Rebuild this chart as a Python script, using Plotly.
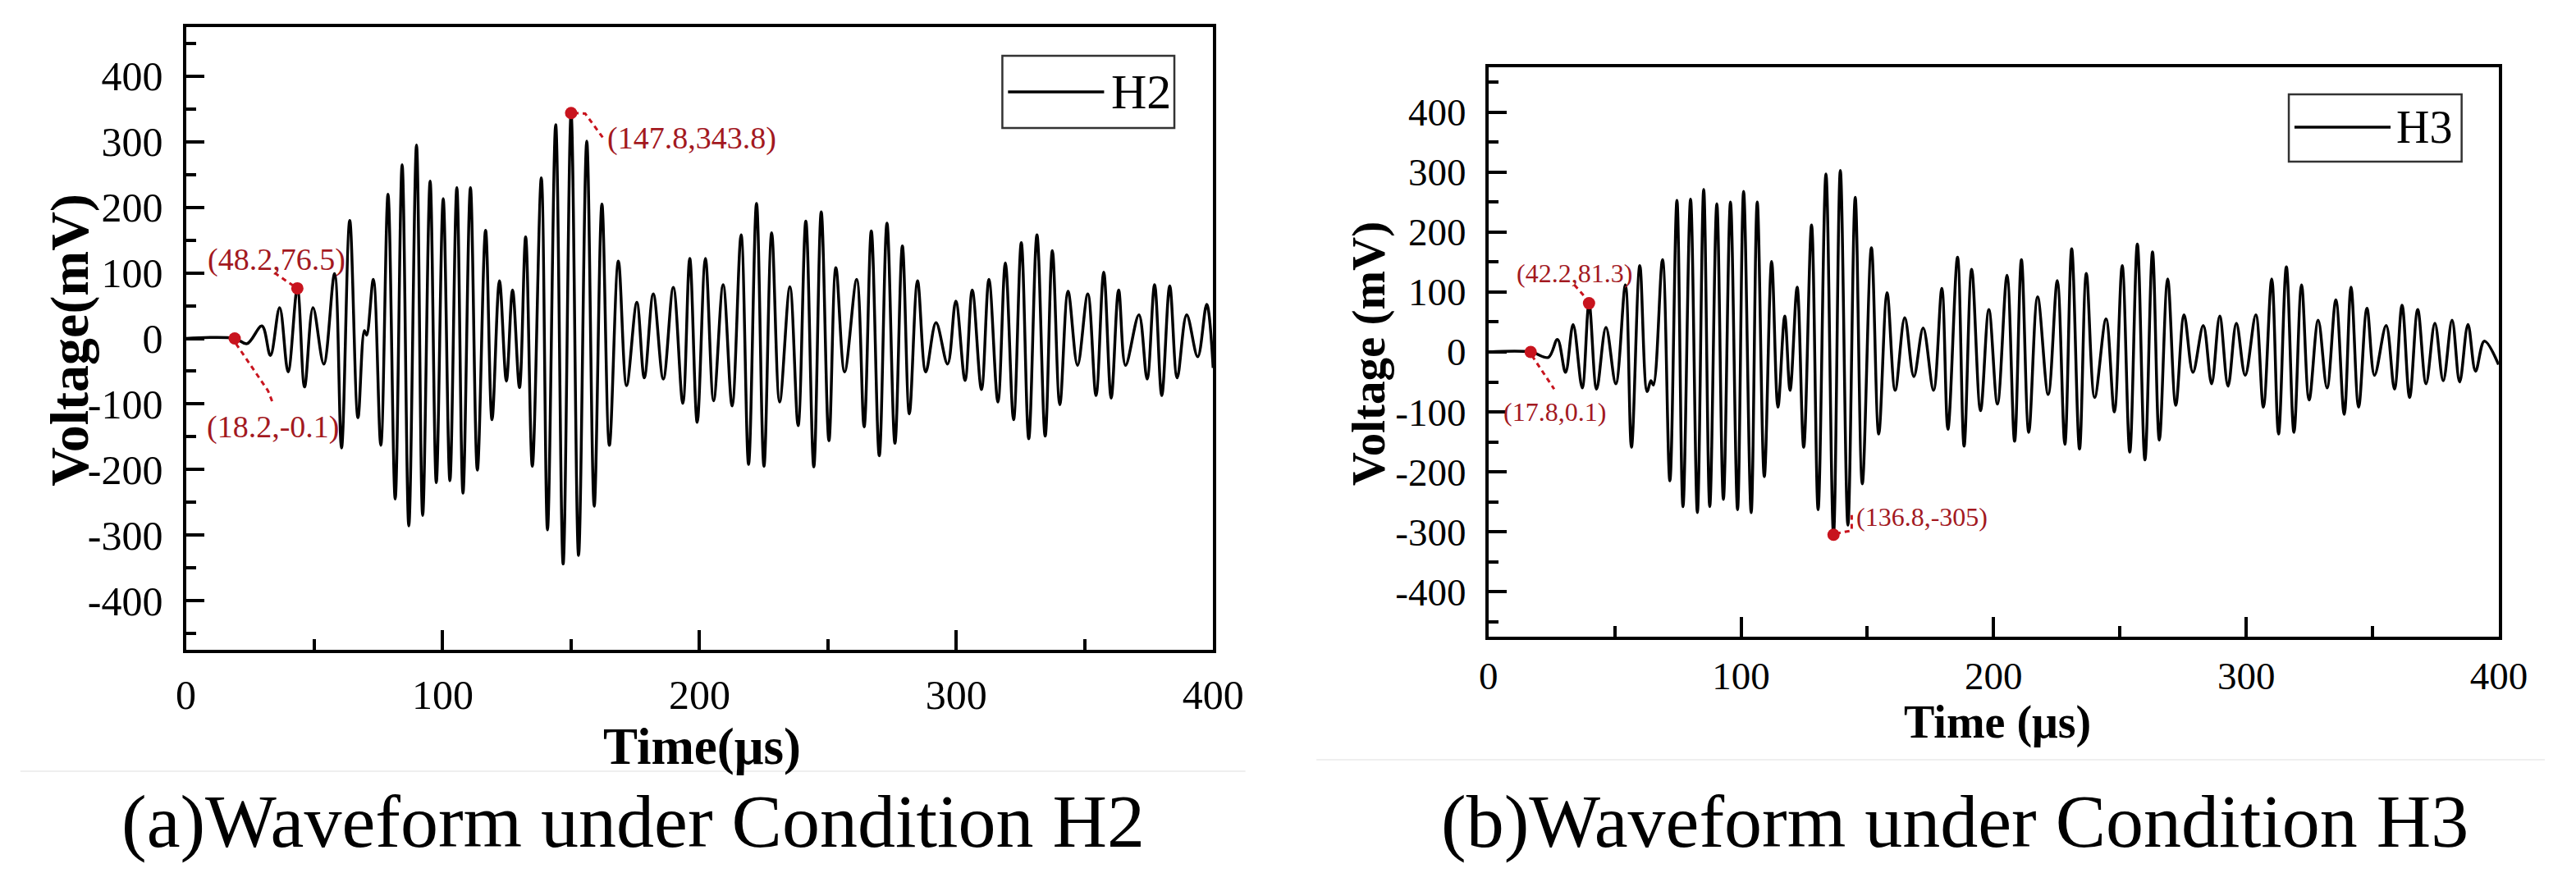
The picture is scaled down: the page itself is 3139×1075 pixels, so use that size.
import plotly.graph_objects as go

# ---------------- data ----------------
# Panel (a): condition H2 – waveform extrema (time in microseconds, voltage in mV)
h2_time = [0, 19.0, 23.8, 29.6, 32.9, 36.5, 39.8, 43.4, 46.2, 49.5, 53.7, 57.9, 60.6,
           63.8, 67.0, 69.5, 70.4, 73.0, 75.9, 78.7, 81.5, 84.2, 86.8, 89.8, 92.2, 95.1,
           97.5, 100.2, 102.8, 105.5, 107.9, 110.8, 113.5, 116.7, 119.2, 122.1, 124.8,
           127.2, 129.9, 132.3, 134.9, 138.4, 140.8, 144.0, 146.9, 150.0, 152.9, 156.1,
           159.0, 162.0, 164.9, 168.4, 171.6, 175.6, 178.5, 182.0, 185.9, 189.8, 193.5,
           196.2, 199.1, 202.3, 205.5, 209.2, 212.7, 216.2, 219.1, 222.2, 225.1, 228.1,
           231.2, 235.2, 238.4, 241.4, 244.5, 247.4, 250.4, 253.1, 256.5, 261.2, 264.1,
           266.9, 270.0, 273.0, 276.1, 279.0, 281.7, 284.9, 288.1, 292.1, 296.6, 299.8,
           303.4, 306.2, 309.8, 312.7, 316.2, 319.1, 322.3, 325.3, 328.2, 331.4, 334.6,
           337.4, 340.3, 343.5, 347.2, 351.2, 354.4, 357.4, 360.3, 363.2, 365.9, 371.1,
           374.3, 377.2, 380.0, 383.1, 386.0, 389.7, 394.0, 397.5, 400.0]
h2_voltage = [0, 0, -8, 19, -26, 47, -51, 76.5, -74, 47, -39, 99, -167,
              180, -121, 12, 5, 90, -163, 220, -245, 265, -286, 295, -270, 240,
              -220, 213, -217, 230, -236, 230, -201, 165, -124, 88, -65,
              74, -75, 155, -195, 245, -292, 326, -344, 343.8, -331, 301,
              -256, 205, -163, 118, -72, 55, -60, 68, -62, 78, -99,
              122, -128, 122, -95, 82, -103, 158, -192, 206, -195, 161,
              -97, 79, -133, 179, -196, 193, -156, 108, -51, 90, -135,
              164, -179, 176, -160, 141, -115, 88, -51, 24, -39, 57,
              -64, 74, -78, 90, -97, 115, -124, 146, -153, 158, -149,
              134, -101, 72, -41, 68, -87, 101, -91, 74, -41, 36,
              -62, 82, -87, 80, -60, 36, -28, 52, -45]

# Panel (b): condition H3
h3_time = [0, 16.7, 23.7, 27.3, 30.5, 33.5, 37.1, 39.8, 42.8, 46.5, 50.4, 54.2, 56.6,
           59.9, 62.8, 64.3, 65.3, 68.9, 71.8, 74.6, 77.0, 80.0, 82.7, 85.2, 87.6, 90.4,
           93.0, 95.8, 98.6, 101.0, 104.0, 106.4, 109.2, 112.1, 114.6, 117.3, 119.4,
           122.2, 124.8, 127.9, 130.5, 133.6, 136.6, 139.3, 142.3, 145.2, 148.0, 151.6,
           154.5, 157.8, 161.0, 164.8, 168.4, 172.1, 176.2, 179.5, 181.9, 185.7, 188.3,
           191.3, 194.8, 198.1, 201.5, 205.3, 208.3, 211.0, 213.9, 217.4, 221.6, 225.2,
           228.2, 230.9, 234.0, 236.7, 240.0, 244.5, 247.8, 250.9, 253.9, 256.9, 259.9,
           262.9, 265.6, 268.9, 272.1, 275.4, 278.9, 283.0, 286.3, 289.5, 292.8, 296.1,
           299.6, 303.8, 306.8, 310.1, 312.8, 315.9, 318.9, 321.9, 324.9, 328.5, 332.0,
           335.5, 338.8, 341.5, 344.5, 347.8, 350.8, 355.4, 358.7, 361.7, 364.7, 367.9,
           371.2, 374.7, 378.0, 381.5, 384.5, 387.8, 390.8, 394.3, 399.9]
h3_voltage = [0, 0, -9, 21, -34, 46, -60, 81.3, -62, 41, -53, 112, -159,
              144, -66, -48, -55, 154, -215, 253, -258, 255, -268, 271, -258, 247,
              -246, 250, -263, 268, -268, 250, -208, 151, -92, 60, -64,
              108, -159, 212, -263, 297, -305, 303, -289, 258, -220, 174,
              -137, 99, -64, 57, -41, 40, -64, 106, -129, 158, -157,
              138, -98, 71, -87, 128, -149, 154, -134, 92, -71, 119,
              -154, 172, -162, 131, -76, 55, -100, 144, -167, 180, -180,
              167, -147, 122, -89, 62, -34, 44, -53, 60, -57, 48,
              -39, 62, -92, 122, -137, 142, -134, 112, -80, 53, -60,
              87, -104, 108, -92, 73, -39, 44, -62, 78, -76, 71,
              -53, 48, -48, 53, -50, 46, -32, 18, -21]

# highlighted points (as drawn) and their printed labels
h2_mark_t = [19.0, 43.4, 150.0]
h2_mark_v = [0, 76.5, 343.8]
h2_labels = ["(18.2,-0.1)", "(48.2,76.5)", "(147.8,343.8)"]
h3_mark_t = [16.7, 39.8, 136.6]
h3_mark_v = [0, 81.3, -305]
h3_labels = ["(17.8,0.1)", "(42.2,81.3)", "(136.8,-305)"]

x_ticks = [0, 100, 200, 300, 400]
x_minor = [50, 150, 250, 350]
y_ticks = [-400, -300, -200, -100, 0, 100, 200, 300, 400]
y_tick_text = ["-400", "-300", "-200", "-100", "0", "100", "200", "300", "400"]
y_minor = [-450, -350, -250, -150, -50, 50, 150, 250, 350, 450]

captions = ["(a)Waveform under Condition H2", "(b)Waveform under Condition H3"]
series_names = ["H2", "H3"]

# ---------------- figure ----------------
W, H = 3139, 1075
def px(x):
    return x / W
def py(y):
    return 1 - y / H

RED = "#c8141e"
LRED = "#a3191f"
SERIF = "Liberation Serif"

fig = go.Figure()
fig.add_trace(go.Scatter(x=h2_time, y=h2_voltage, mode="lines", name=series_names[0],
                         line=dict(color="black", width=3.5, shape="spline", smoothing=1.0),
                         xaxis="x", yaxis="y", showlegend=False))
fig.add_trace(go.Scatter(x=h2_mark_t, y=h2_mark_v, mode="markers",
                         marker=dict(color=RED, size=15), xaxis="x", yaxis="y", showlegend=False))
fig.add_trace(go.Scatter(x=h3_time, y=h3_voltage, mode="lines", name=series_names[1],
                         line=dict(color="black", width=3.5, shape="spline", smoothing=1.0),
                         xaxis="x2", yaxis="y2", showlegend=False))
fig.add_trace(go.Scatter(x=h3_mark_t, y=h3_mark_v, mode="markers",
                         marker=dict(color=RED, size=15), xaxis="x2", yaxis="y2", showlegend=False))

def xax(dom, anchor, fs, standoff):
    return dict(domain=dom, anchor=anchor, range=[0, 400], tickmode="array", tickvals=x_ticks,
                showline=True, linecolor="black", linewidth=4, mirror=True,
                ticks="inside", ticklen=24, tickwidth=4, tickcolor="black",
                minor=dict(ticks="inside", ticklen=13, tickwidth=4, tickcolor="black",
                           tickmode="array", tickvals=x_minor),
                showgrid=False, zeroline=False, ticklabelstandoff=standoff,
                tickfont=dict(family=SERIF, size=fs, color="black"))

def yax(dom, anchor, fs):
    return dict(domain=dom, anchor=anchor, range=[-475, 475], tickmode="array", tickvals=y_ticks,
                ticktext=y_tick_text,
                showline=True, linecolor="black", linewidth=4, mirror=True,
                ticks="inside", ticklen=22, tickwidth=4, tickcolor="black",
                minor=dict(ticks="inside", ticklen=12, tickwidth=4, tickcolor="black",
                           tickmode="array", tickvals=y_minor),
                showgrid=False, zeroline=False, ticklabelstandoff=14,
                tickfont=dict(family=SERIF, size=fs, color="black"))

fig.update_layout(
    width=W, height=H, margin=dict(l=0, r=0, t=0, b=0),
    paper_bgcolor="white", plot_bgcolor="white",
    xaxis=xax([px(218), px(1490)], "y", 50, 8),
    yaxis=yax([py(792), py(33)], "x", 50),
    xaxis2=xax([px(1831), px(3082)], "y2", 47, 4),
    yaxis2=yax([py(776), py(82)], "x2", 47),
)

ann = []
shapes = []

def text(t, x, y, fs, color="black", xanchor="center", angle=0):
    ann.append(dict(text=t, x=px(x), y=py(y), xref="paper", yref="paper",
                    xanchor=xanchor, yanchor="middle", textangle=angle, showarrow=False,
                    font=dict(family=SERIF, size=fs, color=color)))

# axis titles
text("<b>Voltage(mV)</b>", 74, 414, 66, angle=-90)
text("<b>Voltage (mV)</b>", 1683, 431, 57, angle=-90)
text("<b>Time(μs)</b>", 857, 910, 63)
text("<b>Time (μs)</b>", 2461, 880, 56)
# captions
text(captions[0], 772, 1001, 92)
text(captions[1], 2408, 1001, 92)
# point labels (panel a)
text(h2_labels[0], 326, 520, 38, LRED)
text(h2_labels[1], 330, 316, 38, LRED)
text(h2_labels[2], 738, 168, 38, LRED, xanchor="left")
# point labels (panel b)
text(h3_labels[0], 1913, 502, 32, LRED)
text(h3_labels[1], 1937, 333, 32, LRED)
text(h3_labels[2], 2284, 630, 32, LRED, xanchor="left")

dash = dict(color=RED, width=3, dash="6px,5px")
# leader lines (panel a), in data coordinates
shapes.append(dict(type="path", xref="x", yref="y", path="M 19.5,-8 L 32,-80 L 34,-100", line=dash))
shapes.append(dict(type="path", xref="x", yref="y", path="M 34.5,100 L 42,80", line=dash))
shapes.append(dict(type="path", xref="x", yref="y", path="M 151,344 L 155.5,343 L 163,303", line=dash))
# leader lines (panel b)
shapes.append(dict(type="path", xref="x2", yref="y2", path="M 17.2,-6 L 26,-62", line=dash))
shapes.append(dict(type="path", xref="x2", yref="y2", path="M 34,112 L 39,88", line=dash))
shapes.append(dict(type="path", xref="x2", yref="y2", path="M 137.5,-303 L 143.8,-298 L 143.8,-272", line=dash))

# legends drawn as boxes
def legend_box(x0, y0, x1, y1, lx0, lx1, ly, tx, name, fs):
    shapes.append(dict(type="rect", xref="paper", yref="paper", x0=px(x0), x1=px(x1),
                       y0=py(y1), y1=py(y0), line=dict(color="#333333", width=2.5),
                       fillcolor="white"))
    shapes.append(dict(type="line", xref="paper", yref="paper", x0=px(lx0), x1=px(lx1),
                       y0=py(ly), y1=py(ly), line=dict(color="black", width=3.5)))
    text(name, tx, ly, fs, xanchor="left")

legend_box(1229, 68, 1442, 156, 1236, 1355, 112, 1362, series_names[0], 60)
legend_box(2822, 115, 3036, 197, 2829, 2948, 155, 2953, series_names[1], 56)

# faint separator lines under each chart
shapes.append(dict(type="line", xref="paper", yref="paper", x0=px(13), x1=px(1530),
                   y0=py(940), y1=py(940), line=dict(color="#efefef", width=2)))
shapes.append(dict(type="line", xref="paper", yref="paper", x0=px(1618), x1=px(3139),
                   y0=py(926), y1=py(926), line=dict(color="#efefef", width=2)))

fig.update_layout(annotations=ann, shapes=shapes)
fig.write_html("out.html")
